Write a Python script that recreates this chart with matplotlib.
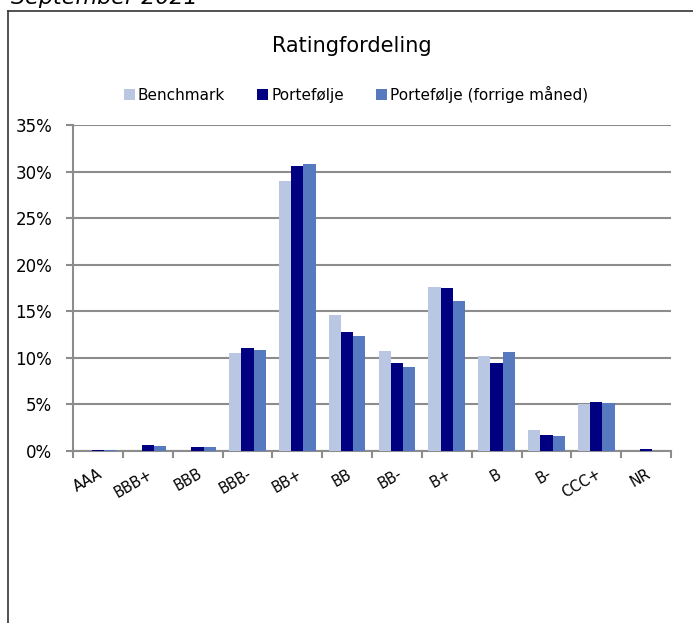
import numpy as np
import matplotlib.pyplot as plt
from matplotlib.lines import Line2D
from matplotlib.ticker import FuncFormatter

# ratings and shares (in %)
ratings = ["AAA", "BBB+", "BBB", "BBB-", "BB+", "BB", "BB-", "B+", "B", "B-", "CCC+", "NR"]
benchmark = [0.0, 0.0, 0.0, 10.5, 29.0, 14.6, 10.7, 17.6, 10.2, 2.3, 5.0, 0.0]
portefolje = [0.15, 0.6, 0.4, 11.1, 30.6, 12.8, 9.4, 17.5, 9.4, 1.7, 5.3, 0.2]
portefolje_prev = [0.15, 0.55, 0.4, 10.8, 30.8, 12.35, 9.0, 16.1, 10.6, 1.6, 5.1, 0.0]

series_names = ["Benchmark", "Portefølje", "Portefølje (forrige måned)"]
colors = ["#b9c7e3", "#000080", "#5779bf"]

fig = plt.figure(figsize=(6.93, 6.23), dpi=100)
ax = fig.add_axes([73 / 693, 1 - 451 / 623, 598 / 693, 326 / 623])

x = np.arange(len(ratings))
w = 0.245
for i, (vals, name, c) in enumerate(zip([benchmark, portefolje, portefolje_prev], series_names, colors)):
    ax.bar(x + (i - 1) * w, np.array(vals) / 100, width=w, color=c, label=name, zorder=3)

ax.set_xlim(-0.5, len(ratings) - 0.5)
ax.set_ylim(0, 0.35)
ax.set_yticks(np.arange(0, 0.351, 0.05))
ax.yaxis.set_major_formatter(FuncFormatter(lambda v, p: f"{v * 100:.0f}%"))
ax.grid(axis="y", color="#8c8c8c", linewidth=1.5, zorder=0)

# category boundaries as tick marks, labels in the middle
ax.set_xticks(np.arange(-0.5, len(ratings), 1))
ax.set_xticklabels([])
ax.set_xticks(x, minor=True)
ax.set_xticklabels(ratings, minor=True, rotation=30, ha="right", rotation_mode="anchor")
ax.tick_params(axis="x", which="minor", length=0, pad=11, labelsize=10.5)
ax.tick_params(axis="x", which="major", length=5, width=1.5, color="#8c8c8c")
ax.tick_params(axis="y", length=5, width=1.5, color="#8c8c8c", labelsize=12, pad=10)

for s in ["top", "right"]:
    ax.spines[s].set_visible(False)
for s in ["left", "bottom"]:
    ax.spines[s].set_color("#8c8c8c")
    ax.spines[s].set_linewidth(1.5)

fig.text(352 / 693, 1 - 46 / 623, "Ratingfordeling", ha="center", va="center", fontsize=15)
fig.legend(loc="center", bbox_to_anchor=(356 / 693, 1 - 94 / 623), ncol=3, frameon=False,
           fontsize=11, handlelength=0.7, handleheight=0.7, handletextpad=0.2, columnspacing=2.1)

# outer frame and cut-off header
fig.add_artist(Line2D([8 / 693, 8 / 693], [0, 1 - 11 / 623], color="#333333", linewidth=1.2))
fig.add_artist(Line2D([8 / 693, 1], [1 - 11 / 623, 1 - 11 / 623], color="#333333", linewidth=1.2))
fig.text(11 / 693, 1 - 4 / 623, "September 2021", ha="left", va="baseline", fontsize=16, style="italic")

fig.savefig("out.png", dpi=100)
